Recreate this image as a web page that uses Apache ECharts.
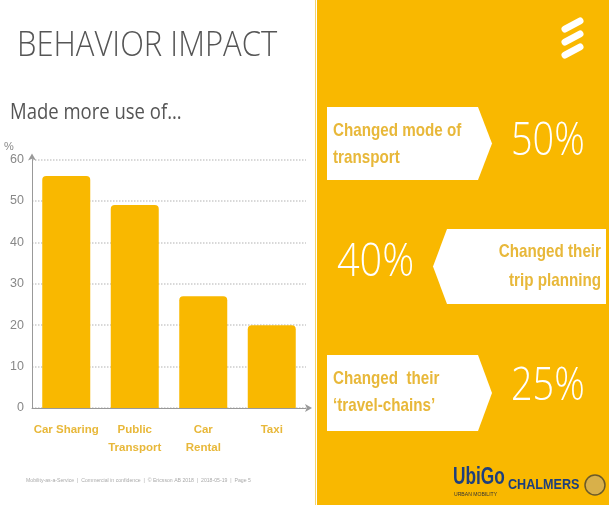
<!DOCTYPE html>
<html><head><meta charset="utf-8">
<script src="https://cdn.jsdelivr.net/npm/echarts@6/dist/echarts.min.js"></script>
<style>html,body{margin:0;padding:0;background:#fff;}#c{width:609px;height:505px;}</style>
</head><body><div id="c"></div>
<script>
const categories = ['Car Sharing', 'Public\nTransport', 'Car\nRental', 'Taxi'];
const values = [56, 49, 27, 20];
const yTicks = { min: 0, max: 60, interval: 10 };
const statLabels = ['Changed mode of\ntransport', 'Changed their\ntrip planning', 'Changed  their\n‘travel-chains’'];
const statValues = ['50%', '40%', '25%'];

const YEL = '#F9B800';
const SANS = "'Liberation Sans',Arial,sans-serif";
const chart = echarts.init(document.getElementById('c'), null, {renderer: 'canvas'});

function boxPts(x0, y0, x1, y1, dir) {
  const ym = (y0 + y1) / 2;
  if (dir === 'right') {
    return [[x0, y0], [x1, y0], [x1 + 14, ym], [x1, y1], [x0, y1]];
  }
  return [[x0, y0], [x1, y0], [x1, y1], [x0, y1], [x0 - 14, ym]];
}

const graphics = [
  {type: 'rect', shape: {x: 317, y: 0, width: 292, height: 505}, style: {fill: YEL}, z: -10},
  {type: 'rect', shape: {x: 315, y: 0, width: 1, height: 505}, style: {fill: '#f3d36a'}, z: -10},
  {type: 'text', x: 17, y: 28, style: {text: 'BEHAVIOR IMPACT', font: "300 31px 'Open Sans','Liberation Sans',sans-serif", fill: '#555'}, scaleY: 1.15},
  {type: 'text', x: 10, y: 101, style: {text: 'Made more use of...', font: "18.5px 'Open Sans'," + SANS, fill: '#555'}, scaleY: 1.2},
  {type: 'text', x: 4, y: 141, style: {text: '%', font: "11px " + SANS, fill: '#888'}},
  {type: 'text', x: 26, y: 477, style: {text: 'Mobility-as-a-Service  |  Commercial in confidence  |  © Ericsson AB 2018  |  2018-05-19  |  Page 5', font: "6px " + SANS, fill: '#aaa'}, scaleX: 0.86},
  // Ericsson logo
  {type: 'line', shape: {x1: 565, y1: 29, x2: 580, y2: 21}, style: {stroke: '#fff', lineWidth: 7, lineCap: 'round'}},
  {type: 'line', shape: {x1: 565, y1: 42, x2: 580, y2: 34}, style: {stroke: '#fff', lineWidth: 7, lineCap: 'round'}},
  {type: 'line', shape: {x1: 565, y1: 55, x2: 580, y2: 47}, style: {stroke: '#fff', lineWidth: 7, lineCap: 'round'}},
  // boxes
  {type: 'polygon', shape: {points: boxPts(327, 107, 478, 180, 'right')}, style: {fill: '#fff'}},
  {type: 'polygon', shape: {points: boxPts(447, 229, 606, 304, 'left')}, style: {fill: '#fff'}},
  {type: 'polygon', shape: {points: boxPts(327, 355, 478, 431, 'right')}, style: {fill: '#fff'}},
  {type: 'text', x: 333, y: 117, style: {text: statLabels[0], font: "bold 19px " + SANS, fill: '#E8B83A', lineHeight: 27}, scaleX: 0.8},
  {type: 'text', x: 601, y: 237, style: {text: statLabels[1], font: "bold 19px " + SANS, fill: '#E8B83A', lineHeight: 29, align: 'right'}, scaleX: 0.8},
  {type: 'text', x: 333, y: 365, style: {text: statLabels[2], font: "bold 19px " + SANS, fill: '#E8B83A', lineHeight: 27}, scaleX: 0.8},
  {type: 'text', x: 511, y: 119, style: {text: statValues[0], font: "200 44px 'Open Sans','DejaVu Sans',sans-serif", fill: '#fff'}, scaleX: 0.86, scaleY: 1.05},
  {type: 'text', x: 337, y: 240, style: {text: statValues[1], font: "200 44px 'Open Sans','DejaVu Sans',sans-serif", fill: '#fff'}, scaleX: 0.9, scaleY: 1.05},
  {type: 'text', x: 511, y: 364, style: {text: statValues[2], font: "200 44px 'Open Sans','DejaVu Sans',sans-serif", fill: '#fff'}, scaleX: 0.86, scaleY: 1.05},
  // logos
  {type: 'text', x: 453, y: 465, style: {text: 'UbiGo', font: "bold 24px " + SANS, fill: '#1d3f7d'}, scaleX: 0.72},
  {type: 'text', x: 454, y: 491, style: {text: 'URBAN MOBILITY', font: "6px " + SANS, fill: '#333'}, scaleX: 0.85},
  {type: 'text', x: 508, y: 477, style: {text: 'CHALMERS', font: "bold 15px " + SANS, fill: '#1d3f7d'}, scaleX: 0.84},
  {type: 'circle', shape: {cx: 595, cy: 485, r: 10}, style: {fill: '#d8b04a', stroke: '#6b5a2a', lineWidth: 1.5}}
];

chart.setOption({
  animation: false,
  backgroundColor: '#fff',
  grid: {left: 32, right: 303, top: 159.5, bottom: 97, containLabel: false},
  xAxis: {
    type: 'category', data: categories,
    axisLine: {show: true, symbol: ['none', 'arrow'], symbolSize: [6, 7], symbolOffset: [0, 6], lineStyle: {color: '#999', width: 1}},
    axisTick: {show: false},
    axisLabel: {color: '#E8B83A', fontWeight: 'bold', fontSize: 11.5, fontFamily: SANS, margin: 13, lineHeight: 18, interval: 0}
  },
  yAxis: {
    type: 'value', min: yTicks.min, max: yTicks.max, interval: yTicks.interval,
    axisLine: {show: true, symbol: ['none', 'arrow'], symbolSize: [6, 7], symbolOffset: [0, 6], lineStyle: {color: '#999', width: 1}},
    axisTick: {show: false},
    axisLabel: {color: '#888', fontSize: 12.5, fontFamily: SANS, margin: 8},
    splitLine: {show: true, lineStyle: {color: '#ccc', type: 'dotted', width: 1.5}}
  },
  series: [{
    type: 'bar', data: values, barWidth: 48,
    itemStyle: {color: YEL, borderRadius: [4, 4, 0, 0]}
  }],
  graphic: graphics
});
</script></body></html>
